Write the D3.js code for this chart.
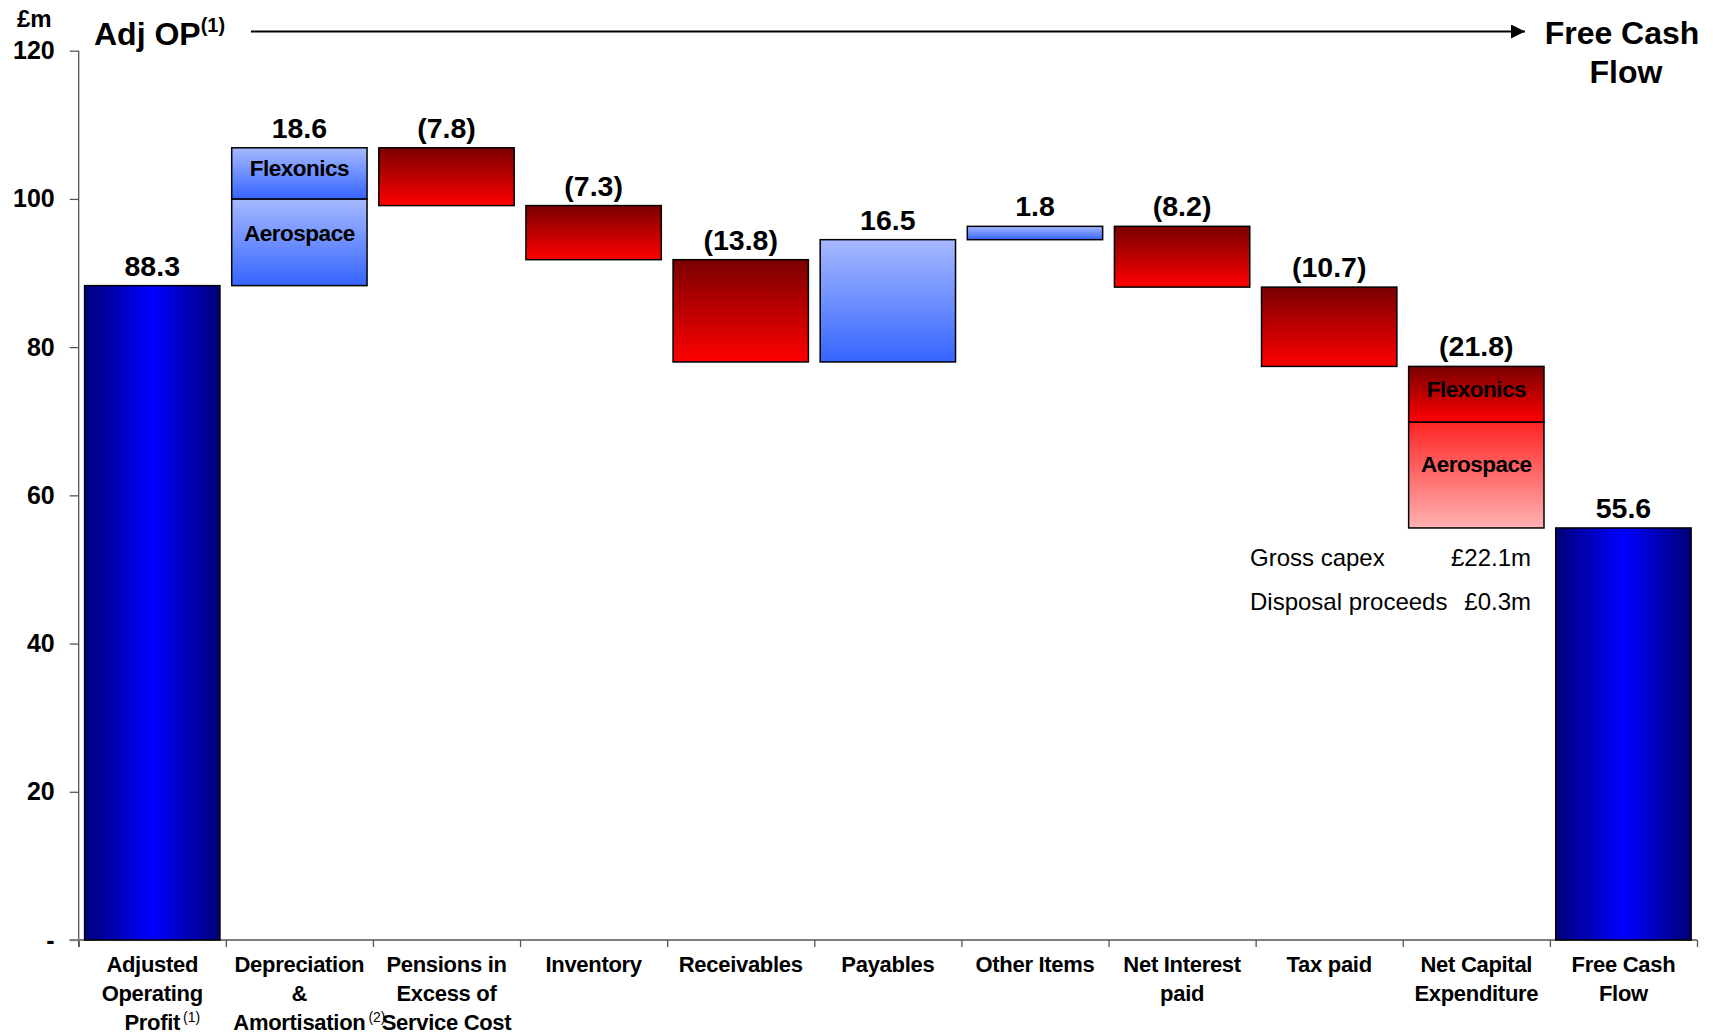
<!DOCTYPE html>
<html>
<head>
<meta charset="utf-8">
<script src="https://cdn.jsdelivr.net/npm/d3@7"></script>
<style>
  body { margin: 0; background: #fff; }
  text { font-family: "Liberation Sans", Arial, sans-serif; }
</style>
</head>
<body>
<div id="chart"></div>
<script>
var categories = ["Adjusted Operating Profit", "Depreciation & Amortisation", "Pensions in Excess of Service Cost",
  "Inventory", "Receivables", "Payables", "Other Items", "Net Interest paid", "Tax paid",
  "Net Capital Expenditure", "Free Cash Flow"];
var labelLines = [["Adjusted", "Operating", "Profit"], ["Depreciation", "&", "Amortisation"],
  ["Pensions in", "Excess of", "Service Cost"], ["Inventory"], ["Receivables"], ["Payables"],
  ["Other Items"], ["Net Interest", "paid"], ["Tax paid"], ["Net Capital", "Expenditure"], ["Free Cash", "Flow"]];
var labelNotes = ["(1)", "(2)", "", "", "", "", "", "", "", "", ""];
var values = [88.3, 18.6, -7.8, -7.3, -13.8, 16.5, 1.8, -8.2, -10.7, -21.8, 55.6];
var isTotal = [true, false, false, false, false, false, false, false, false, false, true];
// split of the two stacked steps (bottom to top)
var deprSplit = [{name: "Aerospace", v: 11.7}, {name: "Flexonics", v: 6.9}];
var capexSplit = [{name: "Aerospace", v: 14.3}, {name: "Flexonics", v: 7.5}];
var yTicks = [0, 20, 40, 60, 80, 100, 120];
var capexNotes = [["Gross capex", "£22.1m"], ["Disposal proceeds", "£0.3m"]];

var W = 1713, H = 1032;
var svg = d3.select("#chart").append("svg")
  .attr("width", W).attr("height", H);

var defs = svg.append("defs");
function grad(id, stops, horiz) {
  var g = defs.append("linearGradient").attr("id", id)
    .attr("x1", 0).attr("y1", 0).attr("x2", horiz ? 1 : 0).attr("y2", horiz ? 0 : 1);
  stops.forEach(function (s) {
    g.append("stop").attr("offset", s[0]).attr("stop-color", s[1]);
  });
}
grad("gTotal", [["0%", "#000078"], ["50%", "#0000ff"], ["100%", "#000078"]], true);
grad("gPos", [["0%", "#a6b9ff"], ["100%", "#3565ff"]]);
grad("gNeg", [["0%", "#7a0000"], ["100%", "#ff0000"]]);
grad("gPink", [["0%", "#ff2424"], ["100%", "#ffb2b2"]]);

var x = d3.scaleBand().domain(categories).range([78.7, 1697])
  .paddingInner(0.08).paddingOuter(0.04);
var y = d3.scaleLinear().domain([0, 120]).range([940, 50.7]);
var xi = d3.scaleLinear().domain([0, categories.length]).range([78.7, 1697]);

// waterfall steps
var run = 0;
var bars = values.map(function (v, i) {
  var lo, hi;
  if (isTotal[i]) { lo = 0; hi = v; run = v; }
  else { lo = Math.min(run, run + v); hi = Math.max(run, run + v); run += v; }
  return {cat: categories[i], v: v, lo: lo, hi: hi, total: isTotal[i]};
});

// axes
var yAxis = svg.append("g")
  .attr("transform", "translate(" + xi(0) + ",0)")
  .call(d3.axisLeft(y).tickValues(yTicks).tickSize(9).tickPadding(15)
    .tickFormat(function (d) { return d === 0 ? "-" : d; }));
yAxis.select(".domain").attr("stroke", "#555").attr("stroke-width", 1.3)
  .attr("d", "M0," + y(120) + "V" + (y(0) + 7));
yAxis.selectAll(".tick line").attr("stroke", "#555").attr("stroke-width", 1.3);
yAxis.selectAll("text").attr("font-size", 25).attr("font-weight", "bold")
  .attr("font-family", "Liberation Sans, Arial, sans-serif").attr("fill", "#000");

var xAxis = svg.append("g")
  .attr("transform", "translate(0," + y(0) + ")")
  .call(d3.axisBottom(xi).ticks(categories.length).tickSize(7).tickFormat(""));
xAxis.select(".domain").attr("stroke", "#808080").attr("stroke-width", 2)
  .attr("d", "M" + (xi(0) - 9) + ",0H" + xi(categories.length));
xAxis.selectAll(".tick line").attr("stroke", "#555").attr("stroke-width", 1.3);

// bars
var g = svg.append("g");
bars.forEach(function (b, i) {
  var split = i === 1 ? deprSplit : (i === 9 ? capexSplit : null);
  if (split) {
    var base = b.lo;
    split.forEach(function (s, k) {
      var fill = b.v > 0 ? "url(#gPos)" : (k === 0 ? "url(#gPink)" : "url(#gNeg)");
      var top = y(base + s.v), bot = y(base);
      g.append("rect")
        .attr("x", x(b.cat)).attr("width", x.bandwidth())
        .attr("y", top).attr("height", bot - top)
        .attr("fill", fill).attr("stroke", "#000").attr("stroke-width", 1.5);
      g.append("text")
        .attr("x", x(b.cat) + x.bandwidth() / 2)
        .attr("y", (top + bot) / 2 - 0.1 * (bot - top))
        .attr("dy", "0.35em").attr("text-anchor", "middle")
        .attr("font-size", 22.5).attr("font-weight", "bold").attr("letter-spacing", -0.5)
        .text(s.name);
      base += s.v;
    });
  } else {
    g.append("rect")
      .attr("x", x(b.cat)).attr("width", x.bandwidth())
      .attr("y", y(b.hi)).attr("height", y(b.lo) - y(b.hi))
      .attr("fill", b.total ? "url(#gTotal)" : (b.v > 0 ? "url(#gPos)" : "url(#gNeg)"))
      .attr("stroke", "#000").attr("stroke-width", 1.5);
  }
  g.append("text")
    .attr("x", x(b.cat) + x.bandwidth() / 2)
    .attr("y", y(b.hi) - 10)
    .attr("text-anchor", "middle")
    .attr("font-size", 28.5).attr("font-weight", "bold")
    .text(b.v < 0 ? "(" + d3.format(".1f")(-b.v) + ")" : d3.format(".1f")(b.v));
});

// category labels
categories.forEach(function (c, i) {
  var cx = xi(i + 0.5);
  labelLines[i].forEach(function (line, k) {
    var t = svg.append("text")
      .attr("x", cx).attr("y", 972 + k * 29)
      .attr("text-anchor", "middle")
      .attr("font-size", 22).attr("font-weight", "bold").attr("letter-spacing", -0.3)
      .text(line);
    if (k === labelLines[i].length - 1 && labelNotes[i]) {
      var w = t.node().getComputedTextLength();
      svg.append("text")
        .attr("x", cx + w / 2 + 3).attr("y", 972 + k * 29 - 8)
        .attr("font-size", 14)
        .text(labelNotes[i]);
    }
  });
});

// capex notes
capexNotes.forEach(function (n, k) {
  svg.append("text").attr("x", 1250).attr("y", 566 + k * 44)
    .attr("font-size", 24).text(n[0]);
  svg.append("text").attr("x", 1531).attr("y", 566 + k * 44)
    .attr("text-anchor", "end").attr("font-size", 24).text(n[1]);
});

// header
svg.append("text").attr("x", 17).attr("y", 27)
  .attr("font-size", 24).attr("font-weight", "bold").text("£m");
var adj = svg.append("text").attr("x", 94).attr("y", 45)
  .attr("font-size", 32).attr("font-weight", "bold");
adj.append("tspan").text("Adj OP");
adj.append("tspan").attr("font-size", 20).attr("dy", -13).text("(1)");

defs.append("marker").attr("id", "arrow")
  .attr("viewBox", "0 0 10 10").attr("refX", 10).attr("refY", 5)
  .attr("markerWidth", 17).attr("markerHeight", 14).attr("orient", "auto")
  .attr("markerUnits", "userSpaceOnUse")
  .append("path").attr("d", "M0,0L10,5L0,10Z").attr("fill", "#000");
svg.append("line")
  .attr("x1", 251).attr("x2", 1525).attr("y1", 31.5).attr("y2", 31.5)
  .attr("stroke", "#000").attr("stroke-width", 2)
  .attr("marker-end", "url(#arrow)");

["Free Cash", "Flow"].forEach(function (t, k) {
  svg.append("text").attr("x", 1622 + k * 4).attr("y", 44 + k * 39)
    .attr("text-anchor", "middle").attr("font-size", 32).attr("font-weight", "bold")
    .text(t);
});
</script>
</body>
</html>
